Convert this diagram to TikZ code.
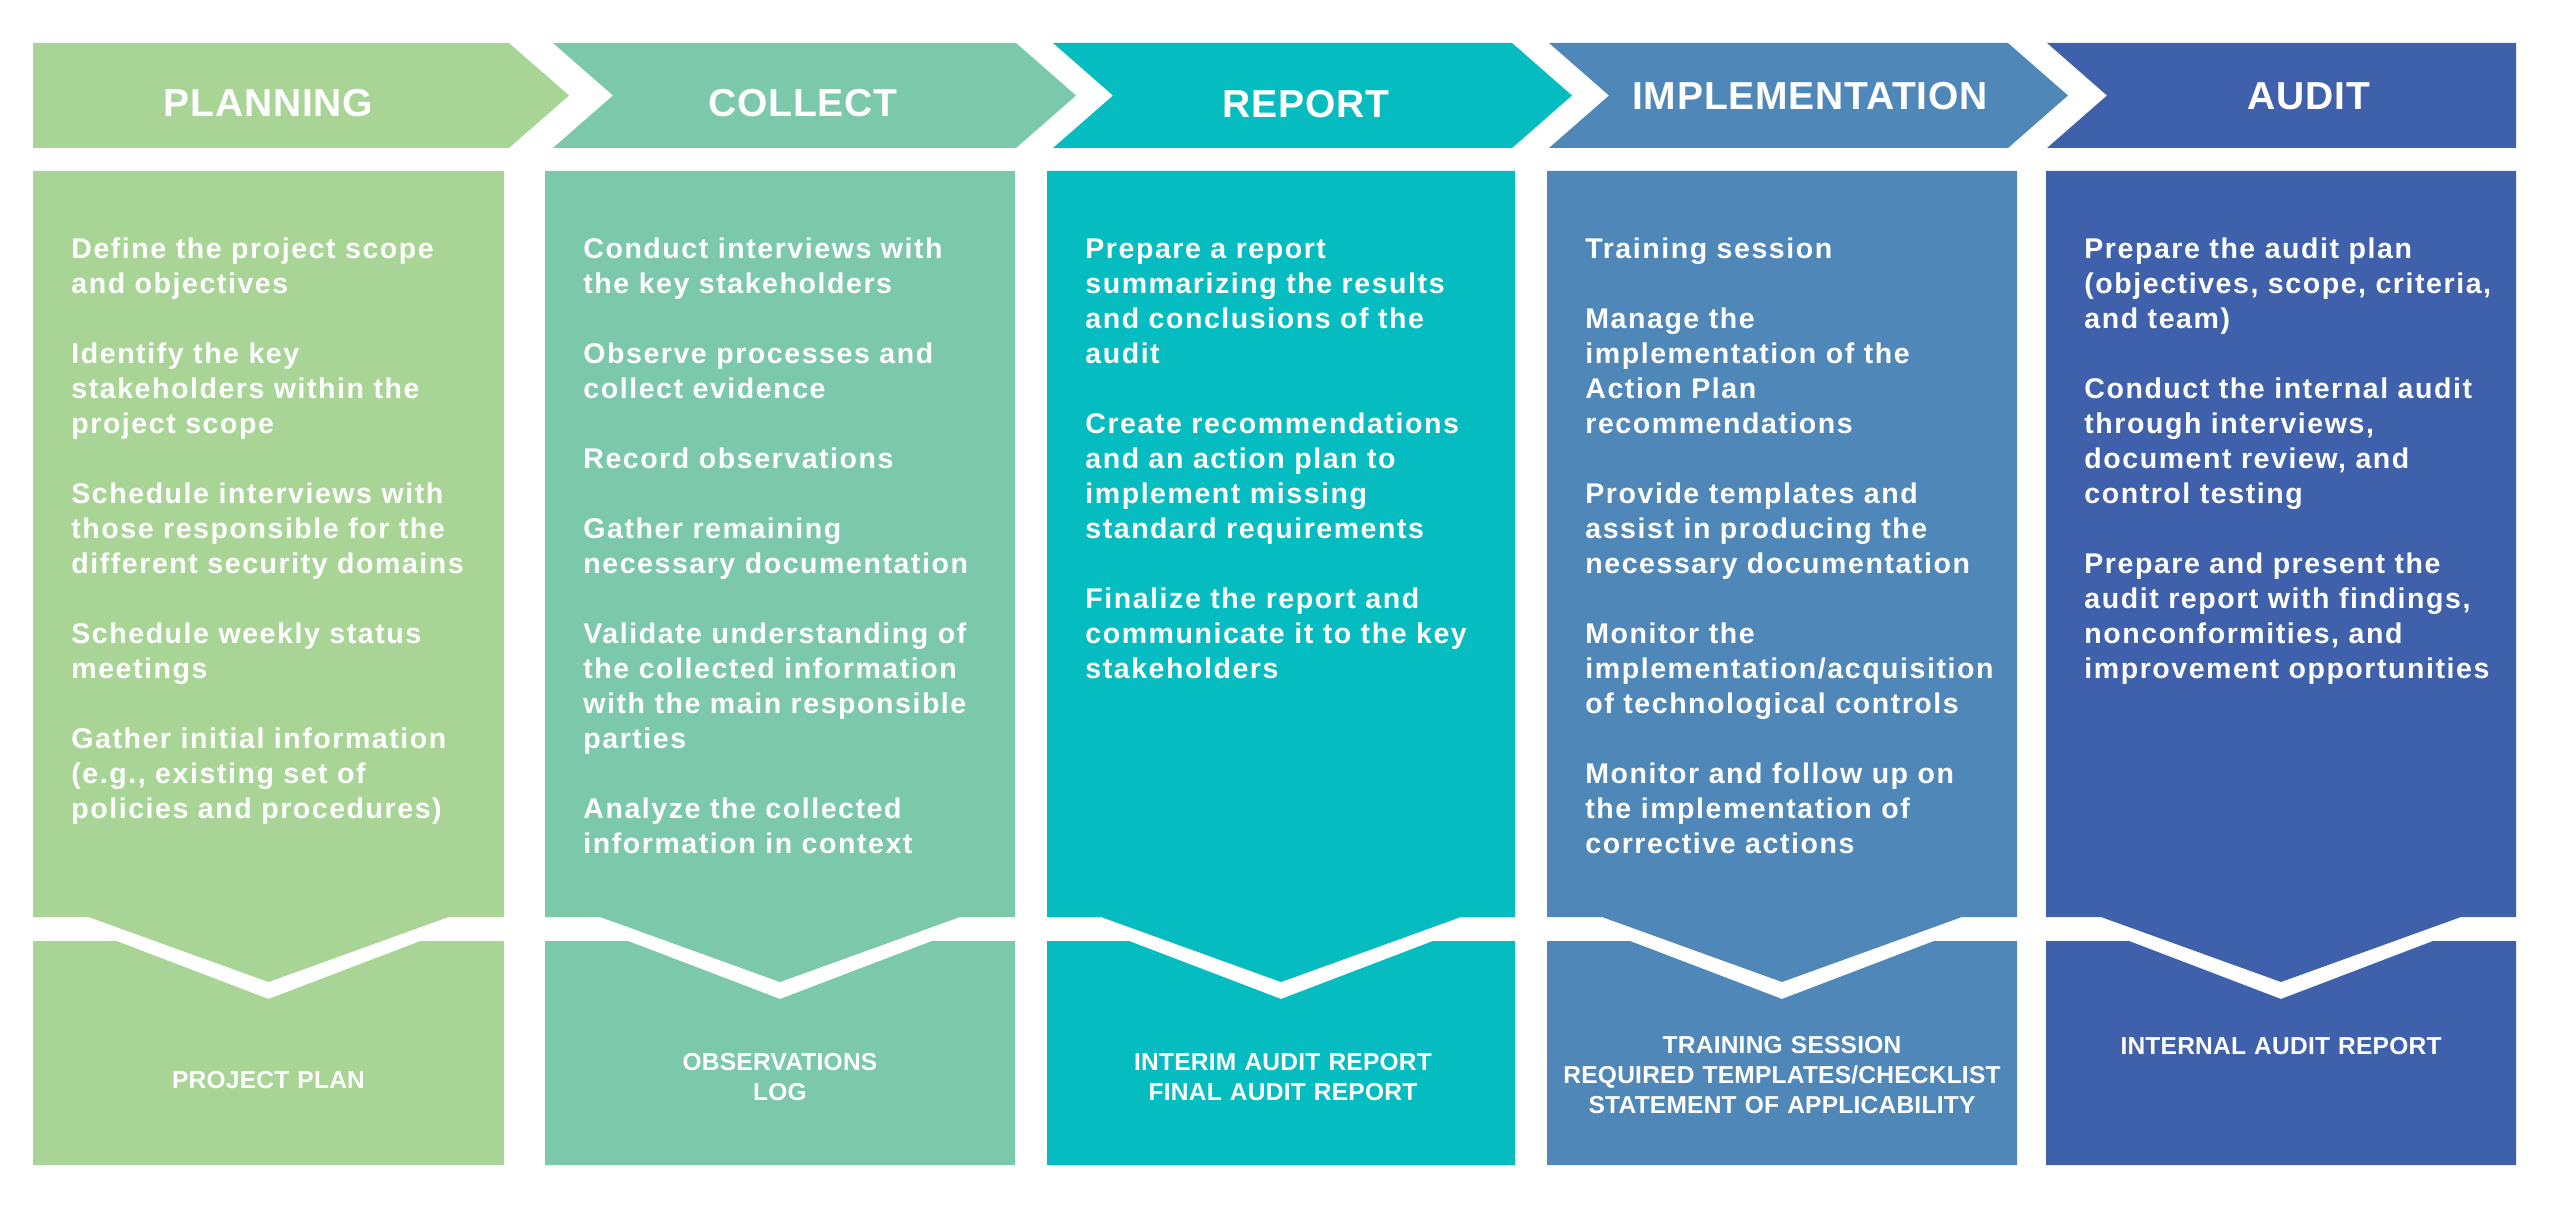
\documentclass[tikz,border=0pt]{standalone}
\usepackage{fontspec}
\setmainfont{Liberation Sans}
\newfontfamily\bodyfont[LetterSpace=5.5]{Liberation Sans}
\newfontfamily\headfont[LetterSpace=2]{Liberation Sans}
\newfontfamily\labfont[LetterSpace=1]{Liberation Sans}
\definecolor{cPlan}{HTML}{A8D596}
\definecolor{cColl}{HTML}{7BC8AA}
\definecolor{cRep}{HTML}{05BCC0}
\definecolor{cImp}{HTML}{4F87B9}
\definecolor{cAud}{HTML}{3F60AB}
\begin{document}
\begin{tikzpicture}[x=0.5pt,y=-0.5pt,
  headtext/.style={text=white, inner sep=0pt, anchor=base, font=\headfont\bfseries\fontsize{19.5}{23}\selectfont},
  bodytext/.style={text=white, inner sep=0pt, anchor=base west, text width=222pt, align=left, font=\bodyfont\bfseries\fontsize{14.25}{17.5}\selectfont},
  labtext/.style={text=white, inner sep=0pt, anchor=base, text width=240pt, align=center, font=\labfont\bfseries\fontsize{12.25}{15}\selectfont}]
\useasboundingbox (0,0) rectangle (2560,1213);
\fill[white] (0,0) rectangle (2560,1213);
% headers
\fill[cPlan] (33,43) -- (509,43) -- (569,95.5) -- (509,148) -- (33,148) -- cycle;
\fill[cColl] (553,43) -- (1016,43) -- (1076,95.5) -- (1016,148) -- (553,148) -- (613,95.5) -- cycle;
\fill[cRep] (1053,43) -- (1512,43) -- (1572,95.5) -- (1512,148) -- (1053,148) -- (1113,95.5) -- cycle;
\fill[cImp] (1549,43) -- (2008,43) -- (2068,95.5) -- (2008,148) -- (1549,148) -- (1609,95.5) -- cycle;
\fill[cAud] (2047,43) -- (2516,43) -- (2516,148) -- (2047,148) -- (2107,95.5) -- cycle;
% bodies
\foreach \L/\R/\col in {33/504/cPlan, 545/1015/cColl, 1047/1515/cRep, 1547/2017/cImp, 2046/2516/cAud}{
  \pgfmathsetmacro\cx{(\L+\R)/2}
  \fill[\col] (\L,171) -- (\R,171) -- (\R,917) -- (\cx+180,917) -- (\cx,982) -- (\cx-180,917) -- (\L,917) -- cycle;
  \fill[\col] (\L,941) -- (\cx-152,941) -- (\cx,999) -- (\cx+152,941) -- (\R,941) -- (\R,1165) -- (\L,1165) -- cycle;
}
% header texts
\node[headtext] (h1) at (268.5,117) {PLANNING};
\node[headtext] (h2) at (803,117) {COLLECT};
\node[headtext] (h3) at (1306,118) {REPORT};
\node[headtext] (h4) at (1810,110) {IMPLEMENTATION};
\node[headtext] (h5) at (2309,110) {AUDIT};
% body texts
\node[bodytext] (b1) at (71,259) {Define the project scope\\and objectives\\[17.5pt]
Identify the key\\stakeholders within the\\project scope\\[17.5pt]
Schedule interviews with\\those responsible for the\\different security domains\\[17.5pt]
Schedule weekly status\\meetings\\[17.5pt]
Gather initial information\\(e.g., existing set of\\policies and procedures)};
\node[bodytext] (b2) at (583,259) {Conduct interviews with\\the key stakeholders\\[17.5pt]
Observe processes and\\collect evidence\\[17.5pt]
Record observations\\[17.5pt]
Gather remaining\\necessary documentation\\[17.5pt]
Validate understanding of\\the collected information\\with the main responsible\\parties\\[17.5pt]
Analyze the collected\\information in context};
\node[bodytext] (b3) at (1085,259) {Prepare a report\\summarizing the results\\and conclusions of the\\audit\\[17.5pt]
Create recommendations\\and an action plan to\\implement missing\\standard requirements\\[17.5pt]
Finalize the report and\\communicate it to the key\\stakeholders};
\node[bodytext] (b4) at (1585,259) {Training session\\[17.5pt]
Manage the\\implementation of the\\Action Plan\\recommendations\\[17.5pt]
Provide templates and\\assist in producing the\\necessary documentation\\[17.5pt]
Monitor the\\implementation/acquisition\\of technological controls\\[17.5pt]
Monitor and follow up on\\the implementation of\\corrective actions};
\node[bodytext] (b5) at (2084,259) {Prepare the audit plan\\(objectives, scope, criteria,\\and team)\\[17.5pt]
Conduct the internal audit\\through interviews,\\document review, and\\control testing\\[17.5pt]
Prepare and present the\\audit report with findings,\\nonconformities, and\\improvement opportunities};
% bottom labels
\node[labtext] (l1) at (268.5,1088) {PROJECT PLAN};
\node[labtext] (l2) at (780,1070) {OBSERVATIONS\\LOG};
\node[labtext] (l3) at (1283,1070) {INTERIM AUDIT REPORT\\FINAL AUDIT REPORT};
\node[labtext] (l4) at (1782,1053) {TRAINING SESSION\\REQUIRED TEMPLATES/CHECKLIST\\STATEMENT OF APPLICABILITY};
\node[labtext] (l5) at (2281,1054) {INTERNAL AUDIT REPORT};
\end{tikzpicture}
\end{document}
